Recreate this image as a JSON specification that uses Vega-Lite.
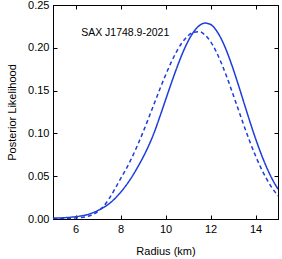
{
  "$schema": "https://vega.github.io/schema/vega-lite/v6.json",
  "width": 225,
  "height": 214,
  "autosize": "none",
  "padding": {"left": 53, "top": 5, "right": 4, "bottom": 40},
  "config": {
    "view": {"stroke": "#000000", "strokeWidth": 1},
    "font": "Liberation Sans",
    "axis": {
      "domainColor": "#000000",
      "tickColor": "#000000",
      "labelColor": "#000000",
      "titleColor": "#000000",
      "labelFont": "Liberation Sans",
      "titleFont": "Liberation Sans",
      "labelFontSize": 11,
      "titleFontSize": 11,
      "titleFontWeight": "normal",
      "grid": false,
      "tickSize": -4
    }
  },
  "datasets": {
    "curves": [
      {"r": 5.0, "v": 0.001, "s": "solid"},
      {"r": 5.5, "v": 0.0015, "s": "solid"},
      {"r": 6.0, "v": 0.0027, "s": "solid"},
      {"r": 6.5, "v": 0.005, "s": "solid"},
      {"r": 7.0, "v": 0.0100, "s": "solid"},
      {"r": 7.5, "v": 0.018, "s": "solid"},
      {"r": 8.0, "v": 0.031, "s": "solid"},
      {"r": 8.5, "v": 0.049, "s": "solid"},
      {"r": 8.75, "v": 0.060, "s": "solid"},
      {"r": 9.0, "v": 0.072, "s": "solid"},
      {"r": 9.25, "v": 0.0855, "s": "solid"},
      {"r": 9.5, "v": 0.1012, "s": "solid"},
      {"r": 9.75, "v": 0.1197, "s": "solid"},
      {"r": 10.0, "v": 0.1389, "s": "solid"},
      {"r": 10.25, "v": 0.1581, "s": "solid"},
      {"r": 10.5, "v": 0.1764, "s": "solid"},
      {"r": 10.75, "v": 0.1932, "s": "solid"},
      {"r": 11.0, "v": 0.2075, "s": "solid"},
      {"r": 11.25, "v": 0.2186, "s": "solid"},
      {"r": 11.5, "v": 0.2258, "s": "solid"},
      {"r": 11.75, "v": 0.2289, "s": "solid"},
      {"r": 12.0, "v": 0.2273, "s": "solid"},
      {"r": 12.25, "v": 0.2206, "s": "solid"},
      {"r": 12.5, "v": 0.2093, "s": "solid"},
      {"r": 12.75, "v": 0.194, "s": "solid"},
      {"r": 13.0, "v": 0.1758, "s": "solid"},
      {"r": 13.25, "v": 0.1557, "s": "solid"},
      {"r": 13.5, "v": 0.1347, "s": "solid"},
      {"r": 13.75, "v": 0.1139, "s": "solid"},
      {"r": 14.0, "v": 0.0941, "s": "solid"},
      {"r": 14.25, "v": 0.0761, "s": "solid"},
      {"r": 14.5, "v": 0.06, "s": "solid"},
      {"r": 14.75, "v": 0.0463, "s": "solid"},
      {"r": 15.0, "v": 0.0349, "s": "solid"},
      {"r": 5.0, "v": 0.0003, "s": "dashed"},
      {"r": 5.5, "v": 0.0006, "s": "dashed"},
      {"r": 6.0, "v": 0.0012, "s": "dashed"},
      {"r": 6.5, "v": 0.0028, "s": "dashed"},
      {"r": 7.0, "v": 0.009, "s": "dashed"},
      {"r": 7.25, "v": 0.015, "s": "dashed"},
      {"r": 7.5, "v": 0.024, "s": "dashed"},
      {"r": 7.75, "v": 0.035, "s": "dashed"},
      {"r": 8.0, "v": 0.047, "s": "dashed"},
      {"r": 8.25, "v": 0.0584, "s": "dashed"},
      {"r": 8.5, "v": 0.0714, "s": "dashed"},
      {"r": 8.75, "v": 0.0858, "s": "dashed"},
      {"r": 9.0, "v": 0.1014, "s": "dashed"},
      {"r": 9.25, "v": 0.1179, "s": "dashed"},
      {"r": 9.5, "v": 0.1349, "s": "dashed"},
      {"r": 9.75, "v": 0.1518, "s": "dashed"},
      {"r": 10.0, "v": 0.168, "s": "dashed"},
      {"r": 10.25, "v": 0.1829, "s": "dashed"},
      {"r": 10.5, "v": 0.1959, "s": "dashed"},
      {"r": 10.75, "v": 0.2065, "s": "dashed"},
      {"r": 11.0, "v": 0.214, "s": "dashed"},
      {"r": 11.25, "v": 0.2182, "s": "dashed"},
      {"r": 11.5, "v": 0.2188, "s": "dashed"},
      {"r": 11.75, "v": 0.2151, "s": "dashed"},
      {"r": 12.0, "v": 0.2073, "s": "dashed"},
      {"r": 12.25, "v": 0.1957, "s": "dashed"},
      {"r": 12.5, "v": 0.181, "s": "dashed"},
      {"r": 12.75, "v": 0.1641, "s": "dashed"},
      {"r": 13.0, "v": 0.1457, "s": "dashed"},
      {"r": 13.25, "v": 0.1268, "s": "dashed"},
      {"r": 13.5, "v": 0.1081, "s": "dashed"},
      {"r": 13.75, "v": 0.0903, "s": "dashed"},
      {"r": 14.0, "v": 0.0739, "s": "dashed"},
      {"r": 14.25, "v": 0.0592, "s": "dashed"},
      {"r": 14.5, "v": 0.0465, "s": "dashed"},
      {"r": 14.75, "v": 0.0358, "s": "dashed"},
      {"r": 15.0, "v": 0.027, "s": "dashed"}
    ],
    "label": [
      {"r": 6.25, "v": 0.2176, "t": "SAX J1748.9-2021"}
    ]
  },
  "layer": [
    {
      "data": {"name": "curves"},
      "mark": {"type": "line", "strokeWidth": 1.5, "color": "#1c3ddb", "interpolate": "monotone", "clip": true},
      "encoding": {
        "x": {
          "field": "r", "type": "quantitative",
          "scale": {"domain": [5, 15], "nice": false, "zero": false},
          "axis": {"orient": "bottom", "title": "Radius (km)", "values": [6, 8, 10, 12, 14], "labelPadding": 8, "titlePadding": 11}
        },
        "y": {
          "field": "v", "type": "quantitative",
          "scale": {"domain": [0, 0.25], "nice": false},
          "axis": {"orient": "left", "title": "Posterior Likelihood", "values": [0, 0.05, 0.1, 0.15, 0.2, 0.25], "format": ".2f", "labelPadding": 8, "titlePadding": 10}
        },
        "strokeDash": {
          "field": "s", "type": "nominal",
          "scale": {"domain": ["solid", "dashed"], "range": [[1, 0], [4, 3]]},
          "legend": null
        }
      }
    },
    {
      "data": {"name": "label"},
      "mark": {"type": "text", "align": "left", "baseline": "middle", "fontSize": 10.5, "font": "Liberation Sans", "color": "#000000"},
      "encoding": {
        "x": {"field": "r", "type": "quantitative", "axis": {"orient": "top", "labels": false, "title": null, "values": [6, 8, 10, 12, 14]}},
        "y": {"field": "v", "type": "quantitative", "axis": {"orient": "right", "labels": false, "title": null, "values": [0, 0.05, 0.1, 0.15, 0.2, 0.25]}},
        "text": {"field": "t"}
      }
    }
  ],
  "resolve": {"axis": {"x": "independent", "y": "independent"}}
}
